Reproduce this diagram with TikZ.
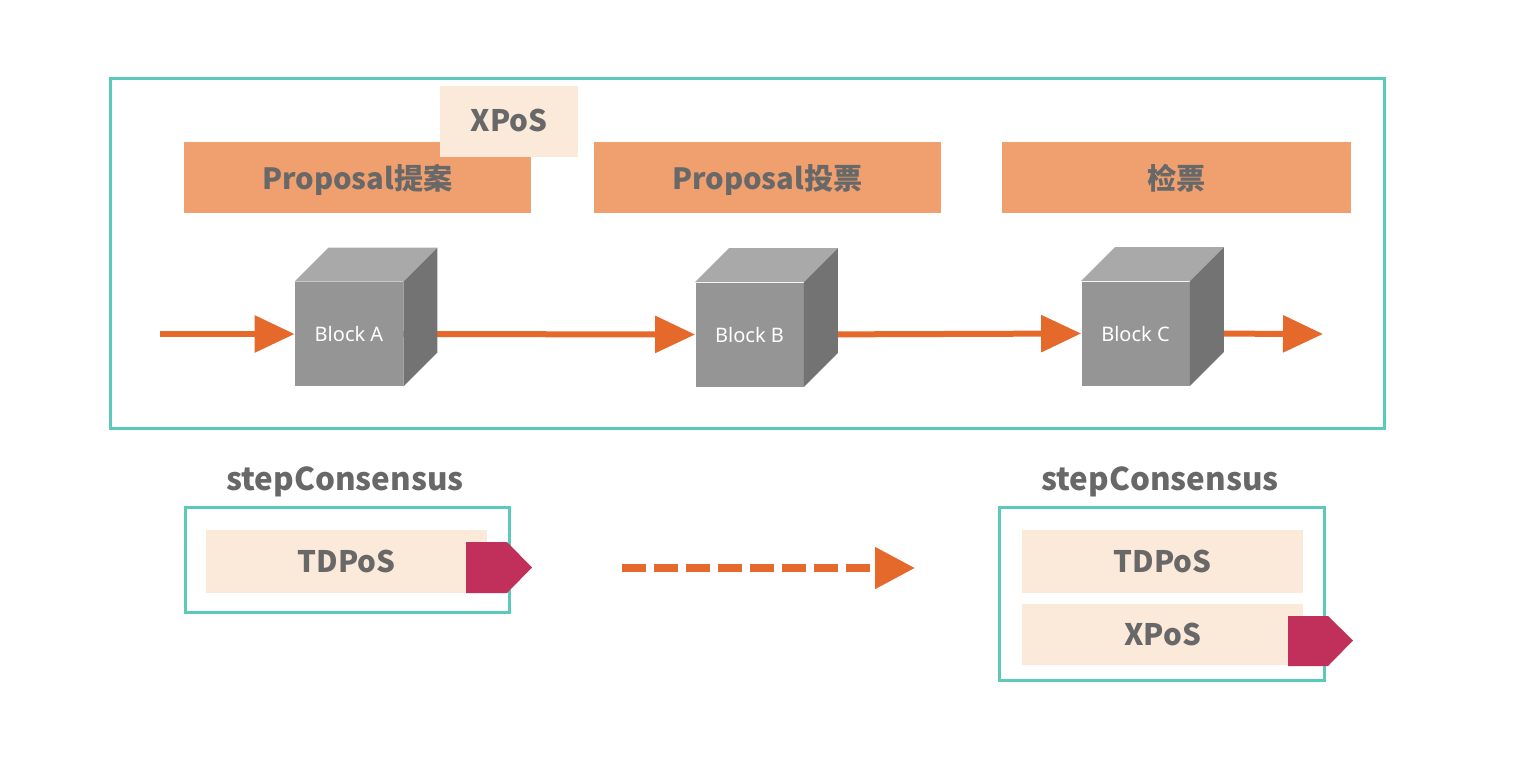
\documentclass[tikz,border=0pt]{standalone}
\usepackage{fontspec}
\setmainfont{Noto Sans}
\newfontfamily\cjk{Noto Sans CJK SC}
\usetikzlibrary{arrows.meta,backgrounds,calc}
\definecolor{frameteal}{HTML}{5CC9BD}
\definecolor{barorange}{HTML}{EFA06E}
\definecolor{peach}{HTML}{FBE9DA}
\definecolor{magent}{HTML}{C0305A}
\definecolor{flowor}{HTML}{E5692A}
\definecolor{txtgray}{HTML}{686868}
\definecolor{cubefr}{HTML}{959595}
\definecolor{cubetop}{HTML}{A9A9A9}
\definecolor{cubeside}{HTML}{737373}
\begin{document}
\begin{tikzpicture}[x=0.5pt,y=-0.5pt,
  frame/.style={draw=frameteal, line width=1.5pt, inner sep=0pt},
  bar/.style={fill=barorange, inner sep=0pt, minimum height=35.5pt, text height=14pt, text depth=2pt, font=\cjk\bfseries\fontsize{14.6}{16}\selectfont, text=txtgray},
  pbox/.style={fill=peach, inner sep=0pt, font=\cjk\bfseries\fontsize{14.8}{16}\selectfont, text=txtgray},
  cubefront/.style={fill=cubefr, inner sep=0pt, minimum width=54pt, minimum height=52pt, text=white, font=\fontsize{10}{12}\selectfont},
  title/.style={font=\cjk\bfseries\fontsize{15.7}{18}\selectfont, text=txtgray, inner sep=0pt},
  flow/.style={draw=flowor, line width=3pt, -{Triangle[length=20pt,width=18pt]}},
  dflow/.style={draw=flowor, line width=4pt, dash pattern=on 12pt off 4pt, -{Triangle[length=20pt,width=20pt]}},
  tag/.style={fill=magent}
]
\useasboundingbox (0,0) rectangle (1514,776);

% main frame
\node[frame, minimum width=637pt, minimum height=175pt] (main) at (747,253) {};

% phase bars
\node[bar, minimum width=173.5pt] (p1) at (357.5,177.5) {Proposal提案};
\node[bar, minimum width=173.5pt] (p2) at (767.5,177.5) {Proposal投票};
\node[bar, minimum width=174.5pt] (p3) at (1176.5,177.5) {检票};
\node[pbox, minimum width=69pt, minimum height=35.5pt, text height=11pt, text depth=1pt] (xtop) at (509,121.5) {XPoS};

% cubes (front faces)
\node[cubefront] (A) at (349,334) {Block A};
\node[cubefront] (B) at (749.5,334.5) {Block B};
\node[cubefront] (C) at (1135.5,333.5) {Block C};
\foreach \c in {A,B,C}{
  \fill[cubetop] (\c.north west) -- ($(\c.north west)+(34,-34)$) -- ($(\c.north east)+(34,-34)$) -- (\c.north east) -- cycle;
  \fill[cubeside] (\c.north east) -- ($(\c.north east)+(34,-34)$) -- ($(\c.south east)+(34,-34)$) -- (\c.south east) -- cycle;
}

% chain arrows
\coordinate (s) at (160,334);
\coordinate (e) at (1323,334);
\begin{scope}[on background layer]
\draw[flow] (s) -- (A.west);
\draw[flow] (A.east) -- (B.west);
\draw[flow] (B.east) -- (C.west);
\draw[flow] (C.east) -- (e);
\end{scope}

% bottom left
\node[title] (t1) at (345,482) {stepConsensus};
\node[frame, minimum width=162pt, minimum height=52.5pt] (box1) at (347,559.5) {};
\node[pbox, minimum width=140.5pt, minimum height=31.5pt] (td1) at (346.5,561.5) {TDPoS};
\fill[tag] (466,542) -- (507,542) -- (532,567.5) -- (507,593) -- (466,593) -- cycle;

% dashed transition
\coordinate (d1) at (622,568);
\coordinate (d2) at (915,568);
\draw[dflow] (d1) -- (d2);

% bottom right
\node[title] (t2) at (1160,482) {stepConsensus};
\node[frame, minimum width=162.5pt, minimum height=86.5pt] (box2) at (1161.5,593.5) {};
\node[pbox, minimum width=140.5pt, minimum height=31.5pt] (td2) at (1162.5,561.5) {TDPoS};
\node[pbox, minimum width=140.5pt, minimum height=30.5pt] (xp2) at (1162.5,634.5) {XPoS};
\fill[tag] (1288,616) -- (1328,616) -- (1353,640.5) -- (1328,666) -- (1288,666) -- cycle;
\end{tikzpicture}
\end{document}
